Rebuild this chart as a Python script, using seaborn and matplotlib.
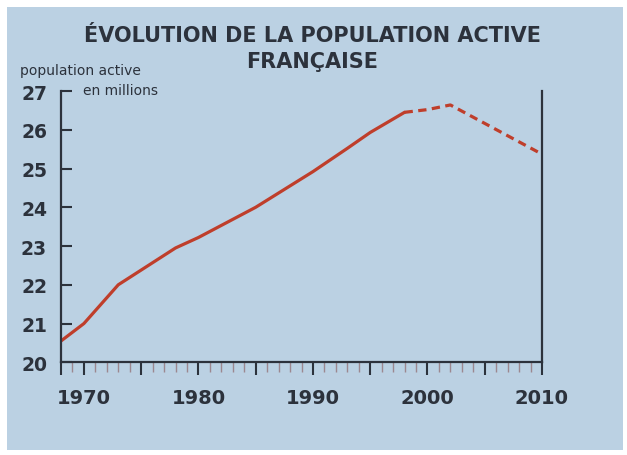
import matplotlib
matplotlib.use("Agg")
import matplotlib.pyplot as plt
from matplotlib.patches import Rectangle
from matplotlib.ticker import FixedLocator, FixedFormatter
import pandas as pd
import seaborn as sns

# Labour force, millions (observed, then projection)
obs_years = [1968, 1970, 1973, 1978, 1980, 1985, 1990, 1993, 1995, 1998]
obs_values = [20.55, 21.0, 22.0, 22.95, 23.22, 24.0, 24.92, 25.52, 25.93, 26.45]
proj_years = [1998, 2000, 2002, 2010]
proj_values = [26.45, 26.52, 26.64, 25.37]

y_ticks = [20, 21, 22, 23, 24, 25, 26, 27]
x_major = [1968, 1970, 1975, 1980, 1985, 1990, 1995, 2000, 2005, 2010]
x_labels = ["", "1970", "", "1980", "", "1990", "", "2000", "", "2010"]

title_1 = "ÉVOLUTION DE LA POPULATION ACTIVE"
title_2 = "FRANÇAISE"
unit_1 = "population active"
unit_2 = "en millions"

df = pd.concat([
    pd.DataFrame({"année": obs_years, "valeur": obs_values, "phase": "observé"}),
    pd.DataFrame({"année": proj_years, "valeur": proj_values, "phase": "projection"}),
], ignore_index=True)

sns.set_theme(style="ticks")
plt.rcParams["font.family"] = ["DejaVu Sans"]

ink = "#2c323c"
red = "#bf3e2b"
panel = "#bbd1e3"

fig = plt.figure(figsize=(6.27, 4.56), dpi=100, facecolor="white")
fig.patches.append(Rectangle((7 / 627, 5 / 456), 616 / 627, 443 / 456,
                             transform=fig.transFigure, facecolor=panel,
                             edgecolor="none", zorder=-10))

ax = fig.add_axes([61 / 627, 1 - 363.3 / 456, 481 / 627, 271.3 / 456])
ax.set_facecolor("none")

sns.lineplot(data=df, x="année", y="valeur", style="phase",
             dashes={"observé": "", "projection": (2.6, 1.7)},
             color=red, linewidth=2.3, legend=False, ax=ax,
             estimator=None, sort=False)

ax.set_xlim(1968, 2010)
ax.set_ylim(20, 27)
ax.set_xlabel("")
ax.set_ylabel("")

for side in ["top"]:
    ax.spines[side].set_visible(False)
for side in ["left", "right", "bottom"]:
    ax.spines[side].set_color(ink)
    ax.spines[side].set_linewidth(1.6)

ax.yaxis.set_major_locator(FixedLocator(y_ticks))
ax.tick_params(axis="y", which="major", direction="in", length=8, width=1.5,
               color=ink, pad=10, labelsize=13.5, labelcolor=ink, right=False)
for lab in ax.get_yticklabels():
    lab.set_fontweight("bold")

ax.xaxis.set_major_locator(FixedLocator(x_major))
ax.xaxis.set_major_formatter(FixedFormatter(x_labels))
minor = [y for y in range(1969, 2010) if y not in x_major]
ax.xaxis.set_minor_locator(FixedLocator(minor))
ax.tick_params(axis="x", which="major", direction="out", length=9.4, width=1.5,
               color=ink, pad=9.4, labelsize=14, labelcolor=ink)
ax.tick_params(axis="x", which="minor", direction="out", length=7.2, width=1.0,
               color="#9c8890")
for lab in ax.get_xticklabels():
    lab.set_fontweight("bold")

fig.text(312 / 627, 1 - 42 / 456, title_1, ha="center", va="baseline",
         fontsize=15, fontweight="bold", color=ink)
fig.text(312 / 627, 1 - 68 / 456, title_2, ha="center", va="baseline",
         fontsize=15, fontweight="bold", color=ink)
fig.text(20 / 627, 1 - 75 / 456, unit_1, ha="left", va="baseline",
         fontsize=10, color=ink)
fig.text(83 / 627, 1 - 95 / 456, unit_2, ha="left", va="baseline",
         fontsize=10, color=ink)

fig.savefig("out.png", dpi=100, facecolor="white")
